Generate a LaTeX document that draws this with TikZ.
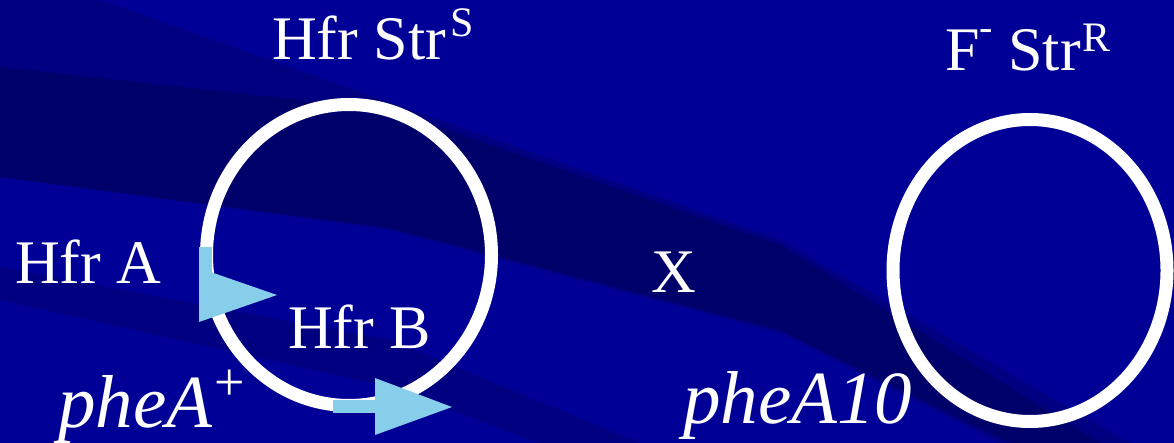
\documentclass[tikz,border=0pt]{standalone}
\usepackage{fontspec}
\setmainfont{Liberation Serif}
\definecolor{bgbase}{RGB}{0,0,150}
\definecolor{bgmid}{RGB}{0,0,128}
\definecolor{bgdark}{RGB}{0,0,106}
\definecolor{skyb}{RGB}{135,206,235}
\tikzset{
  lbl/.style={text=white, inner sep=0pt, anchor=base west, font=\fontsize{62}{70}\selectfont},
  itlbl/.style={lbl, font=\fontsize{75}{78}\selectfont\itshape},
  ring/.style={draw=white, line width=13pt},
  arrowpart/.style={fill=skyb}
}
\begin{document}
\begin{tikzpicture}[x=1pt,y=-1pt]
\useasboundingbox (0,0) rectangle (1174,443);
% background
\fill[bgbase] (0,0) rectangle (1174,443);
\fill[bgmid] (0,0) -- (100,0) -- (780,240) -- (1130,443) -- (1000,443) -- (780,333) -- (390,230) -- (0,177) -- cycle;
\fill[bgdark] (0,67) -- (390,110) -- (780,245) -- (1100,443) -- (1010,443) -- (780,330) -- (390,228) -- (0,177) -- cycle;
\fill[bgmid] (0,267) -- (390,340) -- (640,443) -- (540,443) -- (390,387) -- (0,300) -- cycle;
% rings
\draw[ring] (349,255) ellipse [x radius=142.5, y radius=150.5];
\draw[ring] (1030,270.5) ellipse [x radius=137, y radius=151];
% arrows
\fill[arrowpart] (199,247) rectangle (211.5,272);
\fill[arrowpart] (199,268) -- (277,295) -- (199,322) -- cycle;
\fill[arrowpart] (333,399.5) rectangle (376,412.5);
\fill[arrowpart] (375,378) -- (452,407) -- (375,435) -- cycle;
% labels
\node[lbl] (hfrstr) at (272,60) {Hfr Str\kern4pt\raisebox{23pt}{\fontsize{42}{42}\selectfont S}};
\node[lbl] (fstr) at (945,71) {F\raisebox{30pt}{\fontsize{40}{40}\selectfont -} Str\kern2pt\raisebox{19pt}{\fontsize{42}{42}\selectfont R}};
\node[lbl] (hfra) at (15,284) {Hfr A};
\node[lbl] (cross) at (651,293) {X};
\node[lbl] (hfrb) at (288,348) {Hfr B};
\node[itlbl] (phea) at (58,427) {pheA\kern2pt\raisebox{27pt}{\upshape\fontsize{54}{54}\selectfont +}};
\node[itlbl] (phea10) at (683,423) {pheA10};
\end{tikzpicture}
\end{document}
